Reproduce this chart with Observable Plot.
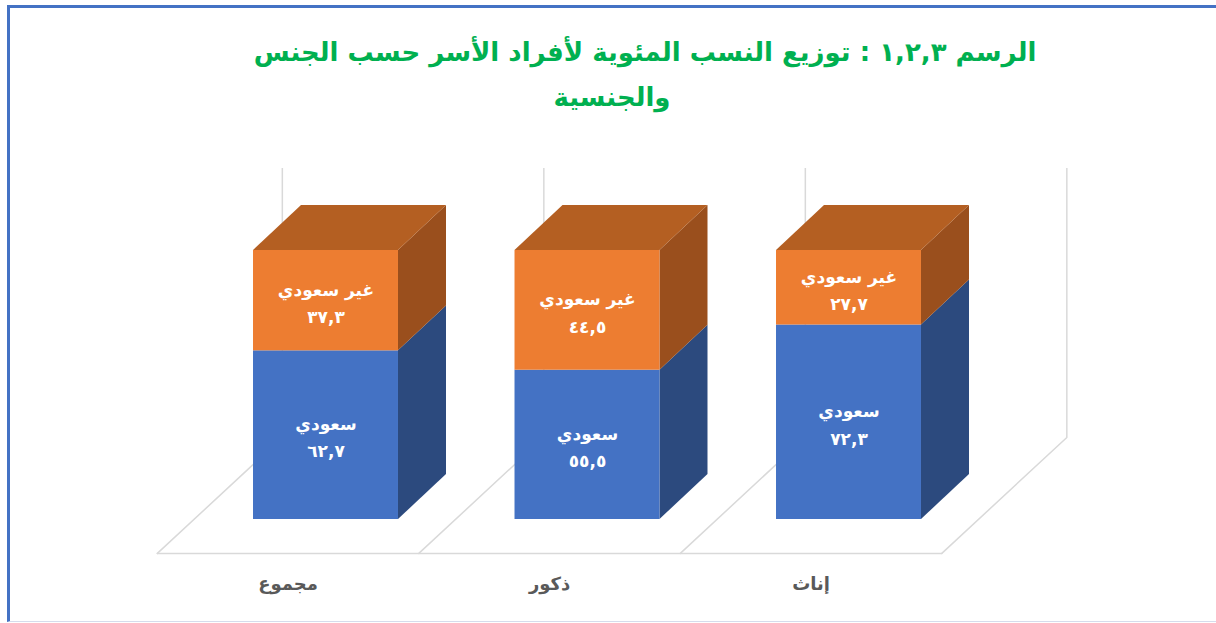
<!DOCTYPE html>
<html lang="ar">
<head>
<meta charset="utf-8">
<script src="https://cdn.jsdelivr.net/npm/d3@7"></script>
<script src="https://cdn.jsdelivr.net/npm/@observablehq/plot@0.6"></script>
<style>
  html, body { margin: 0; padding: 0; background: #fff; }
  #wrap { position: relative; width: 1216px; height: 623px; overflow: hidden; background: #fff;
          font-family: "DejaVu Sans", sans-serif; }
  #frame { position: absolute; left: 7px; top: 5px; width: 1215px; height: 617px;
           border-top: 3px solid #4472c4; border-left: 3px solid #4472c4;
           border-bottom: 1px solid #d6dcec; box-sizing: border-box; }
  #title { position: absolute; left: 195px; top: 30px; width: 900px; text-align: center;
           direction: rtl; color: #00b050; font-weight: bold; font-size: 26px; line-height: 45px; }
  #title .l2 { position: relative; left: -33px; }
  #chart { position: absolute; left: 0; top: 140px; }
</style>
</head>
<body>
<div id="wrap">
  <div id="frame"></div>
  <div id="title"><div>الرسم ١,٢,٣ : توزيع النسب المئوية لأفراد الأسر حسب الجنس</div><div class="l2">والجنسية</div></div>
  <div id="chart"></div>
</div>
<script>
// ---- data ----
const categories = ["مجموع", "ذكور", "إناث"];
const seriesNames = ["سعودي", "غير سعودي"];
const saudi = [62.7, 55.5, 72.3];
const nonSaudi = [37.3, 44.5, 27.7];
const seriesValues = [saudi, nonSaudi];
const seriesColors = {front: ["#4472c4", "#ed7d31"], side: ["#2c4a7e", "#9a4f1d"], top: ["#3a62a8", "#b45f22"]};

// ---- geometry (styling constants) ----
const hw = 0.2772;      // half bar width in category units
const ddx = 0.1836;     // depth offset x (category units)
const ddy = 16.7;       // depth offset y (value units)
const floorFront = -12.6, floorBack = 30.5, wallTop = 130.5;
const floorShiftFront = -0.645, floorDepth = 0.478;

const toArabic = (v) => v.toFixed(1).replace(".", ",").replace(/\d/g, d => "٠١٢٣٤٥٦٧٨٩"[d]);

// segments
const segments = [];
categories.forEach((c, i) => {
  let base = 0;
  seriesValues.forEach((vals, s) => {
    const v = vals[i];
    segments.push({i, s, cat: c, name: seriesNames[s], value: v, lo: base, hi: base + v});
    base += v;
  });
});

const sidePts = [];
segments.forEach((d, k) => {
  sidePts.push({k, s: d.s, x: d.i + hw, y1: d.lo, y2: d.hi});
  sidePts.push({k, s: d.s, x: d.i + hw + ddx, y1: d.lo + ddy, y2: d.hi + ddy});
});
const topPts = [];
segments.filter(d => d.s === seriesNames.length - 1).forEach((d, k) => {
  topPts.push({k, y: d.hi, x1: d.i - hw, x2: d.i + hw});
  topPts.push({k, y: d.hi + ddy, x1: d.i - hw + ddx, x2: d.i + hw + ddx});
});

// floor and wall lines
const bounds = d3.range(categories.length + 1);
const floorLines = bounds.flatMap(k => [
  {k, x: k + floorShiftFront, y: floorFront},
  {k, x: k + floorShiftFront + floorDepth, y: floorBack}
]);
const frontLine = [
  {x: floorShiftFront, y: floorFront},
  {x: categories.length + floorShiftFront, y: floorFront}
];

const plot = Plot.plot({
  width: 1216,
  height: 483,
  x: {type: "linear", domain: [0, 2], range: [325.5, 848.5], axis: null},
  y: {type: "linear", domain: [0, 100], range: [379, 110], axis: null},
  style: {fontFamily: "DejaVu Sans, sans-serif", background: "transparent"},
  marks: [
    Plot.ruleX(bounds, {x: k => k + floorShiftFront + floorDepth, y1: floorBack, y2: wallTop, stroke: "#d9d9d9", strokeWidth: 1.5}),
    Plot.line(floorLines, {x: "x", y: "y", z: "k", stroke: "#d9d9d9", strokeWidth: 1.5}),
    Plot.line(frontLine, {x: "x", y: "y", stroke: "#d9d9d9", strokeWidth: 1.5}),
    ...seriesNames.map((n, s) =>
      Plot.areaY(sidePts.filter(p => p.s === s), {x: "x", y1: "y1", y2: "y2", z: "k", fill: seriesColors.side[s]})),
    Plot.areaX(topPts, {y: "y", x1: "x1", x2: "x2", z: "k", fill: seriesColors.top[1]}),
    Plot.rect(segments, {x1: d => d.i - hw, x2: d => d.i + hw, y1: "lo", y2: "hi",
      fill: d => seriesColors.front[d.s]}),
    Plot.text(segments, {x: "i", y: d => (d.lo + d.hi) / 2, text: d => d.name + "\n" + toArabic(d.value),
      fill: "white", fontSize: 17, fontWeight: "bold", lineHeight: 1.6}),
    Plot.text(categories, {x: (d, i) => i + floorShiftFront + 0.5, y: -24, text: d => d,
      fill: "#595959", fontSize: 18, fontWeight: "bold"})
  ]
});
document.getElementById("chart").appendChild(plot);
</script>
</body>
</html>
